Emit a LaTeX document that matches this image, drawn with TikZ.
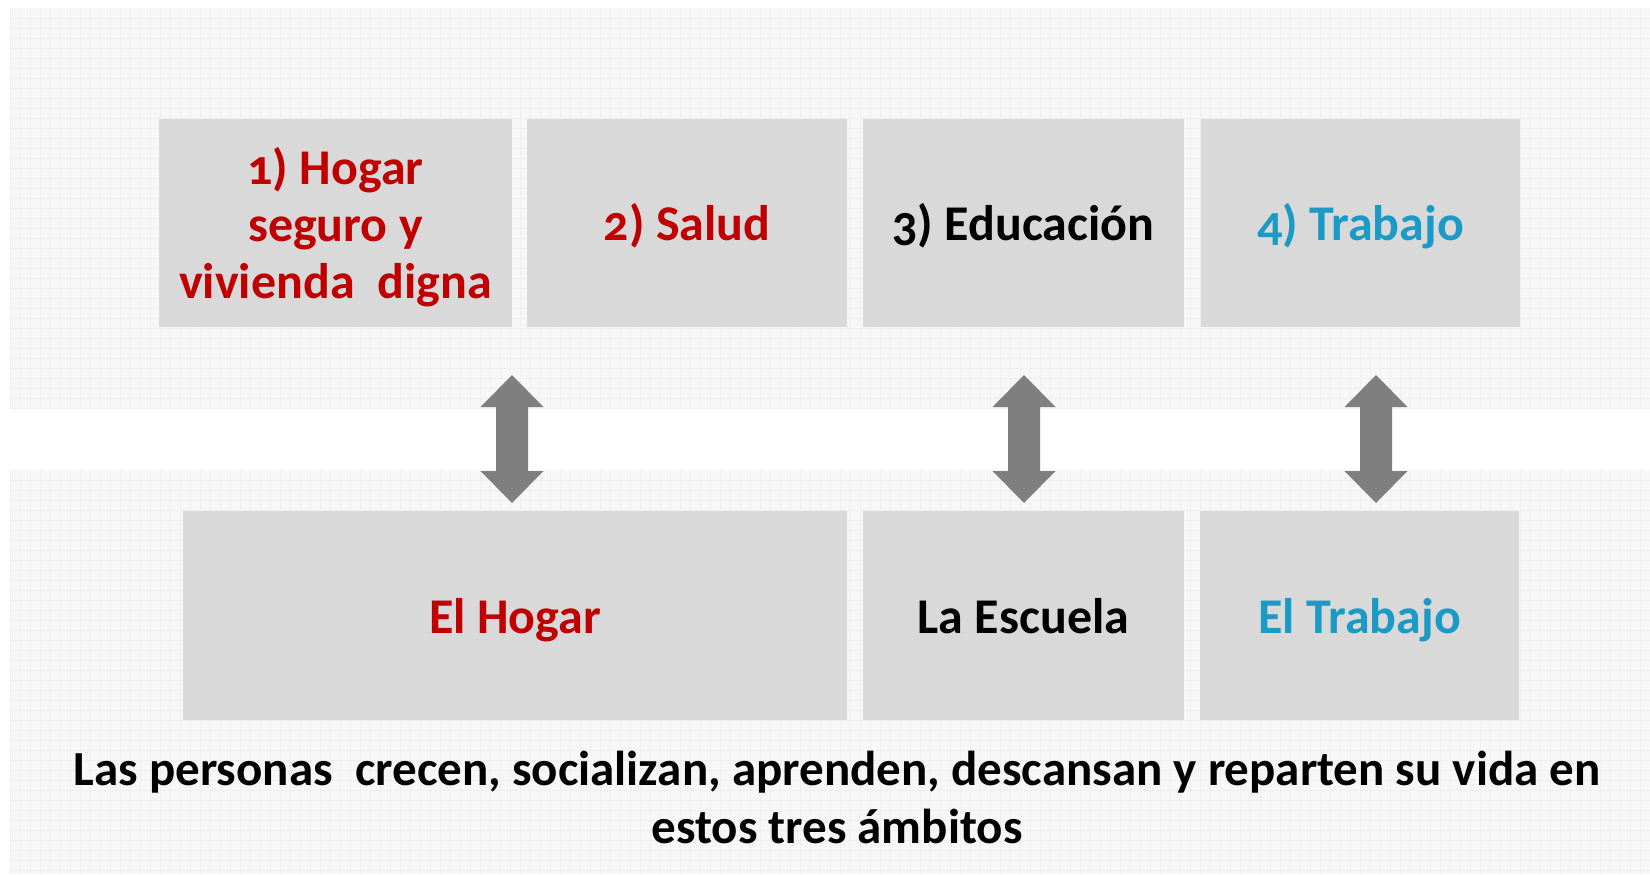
\documentclass[tikz,border=0pt]{standalone}
\usepackage{fontspec}
\setmainfont{Carlito}[Numbers=OldStyle]
\usetikzlibrary{calc}
\definecolor{boxgray}{HTML}{D9D9D9}
\definecolor{panel}{HTML}{F7F7F7}
\definecolor{gridc}{HTML}{EFEFEF}
\definecolor{redt}{HTML}{C00000}
\definecolor{bluet}{HTML}{1A9AC4}
\definecolor{arrowc}{HTML}{7F7F7F}
\begin{document}
\begin{tikzpicture}[x=0.5pt,y=-0.5pt,
  box/.style={fill=boxgray, draw=none, inner sep=0pt},
  lbl/.style={inner sep=0pt, align=center,
    font=\fontsize{25}{28.5}\selectfont\bfseries},
  sz/.style 2 args={minimum width=#1*0.5pt, minimum height=#2*0.5pt},
  gridline/.style={draw=gridc, line width=0.5pt},
  bigarrow/.style={fill=arrowc, draw=none},
  caption/.style={align=center, inner sep=0pt, text=black,
    font=\fontsize{24.5}{29}\selectfont\bfseries}]
\useasboundingbox (0,0) rectangle (1650,874);
\fill[white] (0,0) rectangle (1650,874);
% panels
\fill[panel] (10,8) rectangle (1650,408);
\fill[panel] (10,470) rectangle (1650,874);
\foreach \x in {10,20,...,1650} {
  \draw[gridline] (\x,8) -- (\x,408);
  \draw[gridline] (\x,470) -- (\x,874);
}
\foreach \y in {18,28,...,408} \draw[gridline] (10,\y) -- (1650,\y);
\foreach \y in {480,490,...,874} \draw[gridline] (10,\y) -- (1650,\y);
% top boxes
\node[box, sz={353}{208}] (b1) at (335.5,223) {};
\node[box, sz={320}{208}] (b2) at (687,223) {};
\node[box, sz={321}{208}] (b3) at (1023.5,223) {};
\node[box, sz={319}{208}] (b4) at (1360.5,223) {};
\node[lbl, text=redt] (t1) at ($(b1.center)+(0,4)$) {1) Hogar\\seguro y\\vivienda\ \ digna};
\node[lbl, text=redt, anchor=base] (t2) at ($(b2.center)+(0,17.5)$) {2) Salud};
\node[lbl, text=black, anchor=base] (t3) at ($(b3.center)+(0,17.5)$) {3) Educación};
\node[lbl, text=bluet, anchor=base] (t4) at ($(b4.center)+(0,17.5)$) {4) Trabajo};
% bottom boxes
\node[box, sz={664}{209}] (c1) at (515,615.5) {};
\node[box, sz={321}{209}] (c2) at (1023.5,615.5) {};
\node[box, sz={319}{209}] (c3) at (1359.5,615.5) {};
\node[lbl, text=redt, anchor=base] (u1) at ($(c1.center)+(0,17.5)$) {El Hogar};
\node[lbl, text=black, anchor=base] (u2) at ($(c2.center)+(0,17.5)$) {La Escuela};
\node[lbl, text=bluet, anchor=base] (u3) at ($(c3.center)+(0,17.5)$) {El Trabajo};
% arrows
\coordinate (a1) at (512,439);
\coordinate (a2) at (1024,439);
\coordinate (a3) at (1376,439);
\foreach \a in {a1,a2,a3} {
  \fill[bigarrow] ($(\a)+(0,-64)$) -- ($(\a)+(31.5,-32)$) -- ($(\a)+(16,-32)$)
    -- ($(\a)+(16,32)$) -- ($(\a)+(31.5,32)$) -- ($(\a)+(0,64)$)
    -- ($(\a)+(-31.5,32)$) -- ($(\a)+(-16,32)$) -- ($(\a)+(-16,-32)$)
    -- ($(\a)+(-31.5,-32)$) -- cycle;
}
% caption
\node[caption] (cap) at (837,797) {Las personas\ \ crecen, socializan, aprenden, descansan y reparten su vida en\\estos tres ámbitos};
\end{tikzpicture}
\end{document}
